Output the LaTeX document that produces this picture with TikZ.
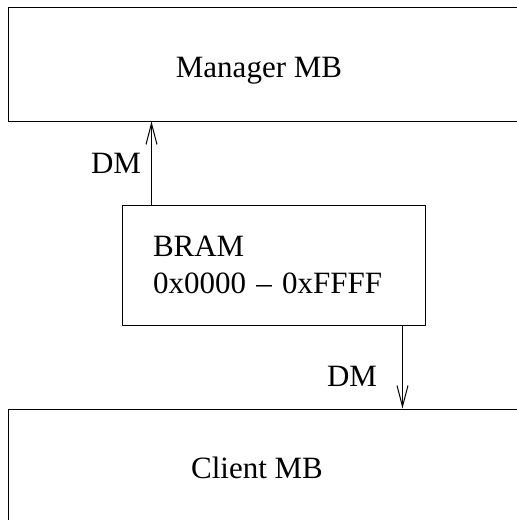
\documentclass[tikz,border=0pt]{standalone}
\usepackage{fontspec}
\setmainfont{Liberation Serif}
\usepackage{tikz}
\usetikzlibrary{
	positioning,    % posizionamento relativo
	arrows.meta     % punte di freccia
}

\begin{document}
\begin{tikzpicture}[x=1pt, y=-1pt, line width=1pt,
		blockbox/.style={draw, rectangle, inner sep=0pt},
		dmarrow/.style={-{Straight Barb[length=21pt, width=11pt]}},
		lbl/.style={inner sep=0pt, font=\fontsize{31}{37}\selectfont}]
		% --- Area del disegno ---
		\useasboundingbox (0,0) rectangle (517,520);
		\clip (0,0) rectangle (517,520);
		
		% --- Blocchi ---
		% Manager (esce a destra)
		\node[blockbox, minimum width=522pt, minimum height=114pt] (mgr) at (269,64) {};
		\node[lbl, anchor=base] (mgrtxt) at (259,77) {Manager MB};
		% Client (esce a destra e in basso)
		\node[blockbox, minimum width=522pt, minimum height=131pt] (client) at (269,474.5) {};
		\node[lbl, anchor=base] (clienttxt) at (257,478) {Client MB};
		% BRAM
		\node[blockbox, lbl, minimum width=303pt, minimum height=120pt,
			align=left, text width=303pt] (bram) at (273.5,265)
			{\hspace*{31pt}BRAM\\\hspace*{31pt}0x0000 -- 0xFFFF};
		
		% --- Collegamenti ---
		\draw[dmarrow] ([xshift=30pt]bram.north west) -- ([xshift=30pt]bram.north west |- mgr.south)
			node[lbl, midway, left=10pt] (dmup) {DM};
		\draw[dmarrow] ([xshift=-23pt]bram.south east) -- ([xshift=-23pt]bram.south east |- client.north)
			node[lbl, pos=0.61, left=25pt] (dmdown) {DM};
\end{tikzpicture}
\end{document}
